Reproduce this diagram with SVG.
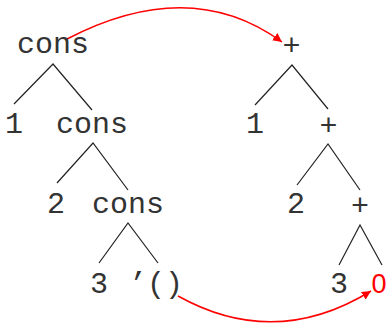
<svg xmlns="http://www.w3.org/2000/svg" width="386" height="323" viewBox="0 0 386 323">
<style>
text { font-family: "Liberation Mono", "Courier New", monospace; font-size: 30px; fill: #333; text-anchor: middle; }
.red { fill: #ff0000; font-family: "Liberation Sans", Arial, sans-serif; font-size: 27px; }
.edge { stroke: #222; stroke-width: 1.2; fill: none; }
.arrow { stroke: #ff0000; stroke-width: 1.5; fill: none; }
</style>
<defs>
<marker id="ah" viewBox="0 0 10 10" refX="10" refY="5" markerWidth="9" markerHeight="9" markerUnits="userSpaceOnUse" orient="auto">
<path d="M0,0 L10,5 L0,10 z" fill="#ff0000"/>
</marker>
</defs>
<rect width="386" height="323" fill="#fff"/>
<g id="connectors">
<path class="edge" d="M14,104 L53,64 L92,110"/>
<path class="edge" d="M57,183 L93,143 L128,190"/>
<path class="edge" d="M99,263 L128,223 L158,263"/>
<path class="edge" d="M255,105 L292,65 L328,109"/>
<path class="edge" d="M297,185 L328,144 L360,190"/>
<path class="edge" d="M339,265 L360,225 L382,265"/>
<path class="arrow" d="M67,39 Q190,-25 282,42" marker-end="url(#ah)"/>
<path class="arrow" d="M178,296 Q275,350 371,291" marker-end="url(#ah)"/>
</g>
<g id="cons1"><text x="53" y="53">cons</text></g>
<g id="one1"><text x="14" y="133">1</text></g>
<g id="cons2"><text x="92" y="133">cons</text></g>
<g id="two1"><text x="56" y="213">2</text></g>
<g id="cons3"><text x="128" y="213">cons</text></g>
<g id="three1"><text x="99" y="293">3</text></g>
<g id="nil"><text x="156" y="293">’()</text></g>
<g id="plus1"><text x="291.5" y="55">+</text></g>
<g id="one2"><text x="255" y="133">1</text></g>
<g id="plus2"><text x="328.5" y="135">+</text></g>
<g id="two2"><text x="296" y="213">2</text></g>
<g id="plus3"><text x="360" y="215">+</text></g>
<g id="three2"><text x="339" y="293">3</text></g>
<g id="zero"><text class="red" x="379" y="293">0</text></g>
</svg>
